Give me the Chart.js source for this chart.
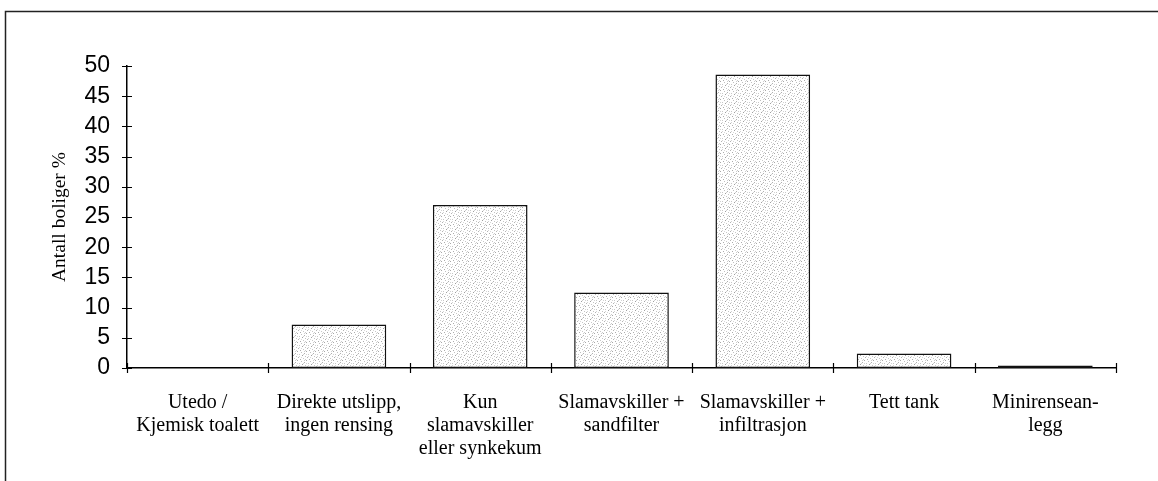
<!DOCTYPE html>
<html>
<head>
<meta charset="utf-8">
<script src="https://cdn.jsdelivr.net/npm/chart.js@4/dist/chart.umd.min.js"></script>
<style>
  html, body { margin: 0; padding: 0; background: #fff; }
  #wrap { width: 1158px; height: 481px; position: relative; }
</style>
</head>
<body>
<div id="wrap"><canvas id="c" width="1158" height="481"></canvas></div>
<script>
const categories = [
  ['Utedo /', 'Kjemisk toalett'],
  ['Direkte utslipp,', 'ingen rensing'],
  ['Kun', 'slamavskiller', 'eller synkekum'],
  ['Slamavskiller +', 'sandfilter'],
  ['Slamavskiller +', 'infiltrasjon'],
  ['Tett tank'],
  ['Minirensean-', 'legg']
];
const values = [0, 7.2, 27.0, 12.5, 48.6, 2.4, 0.4];
const yTicks = [0, 5, 10, 15, 20, 25, 30, 35, 40, 45, 50];
const yTitle = 'Antall boliger %';

// stippled light-grey fill texture (fixed dot layout)
function makePattern() {
  const n = 9;
  const t = document.createElement('canvas');
  t.width = n; t.height = n;
  const g = t.getContext('2d');
  g.fillStyle = '#ffffff'; g.fillRect(0, 0, n, n);
  const dots = [
    [0,0,'#a8a8a8'],[4,1,'#c0c0c0'],[7,2,'#b0b0b0'],[2,3,'#c8c8c8'],
    [5,4,'#a0a0a0'],[8,5,'#c4c4c4'],[1,6,'#b4b4b4'],[6,7,'#c8c8c8'],
    [3,8,'#acacac'],[7,0,'#d0d0d0'],[2,5,'#d4d4d4'],[6,3,'#d0d0d0'],
    [4,6,'#d8d8d8'],[0,3,'#d4d4d4'],[8,8,'#cccccc']
  ];
  dots.forEach(d => { g.fillStyle = d[2]; g.fillRect(d[0], d[1], 1, 1); });
  return g.createPattern(t, 'repeat');
}

const framePlugin = {
  id: 'frame',
  beforeDraw(chart) {
    const ctx = chart.ctx;
    ctx.save();
    ctx.fillStyle = '#fff';
    ctx.fillRect(0, 0, chart.width, chart.height);
    ctx.strokeStyle = '#222';
    ctx.lineWidth = 1.5;
    ctx.beginPath();
    ctx.moveTo(5.5, chart.height);
    ctx.lineTo(5.5, 11.5);
    ctx.lineTo(chart.width, 11.5);
    ctx.stroke();
    ctx.restore();
  },
  afterDraw(chart) {
    const ctx = chart.ctx;
    const x = chart.scales.x, y = chart.scales.y;
    const ca = chart.chartArea;
    ctx.save();
    ctx.strokeStyle = '#000';
    ctx.lineWidth = 1.2;
    ctx.beginPath();
    y.ticks.forEach((t, i) => {
      const py = Math.round(y.getPixelForTick(i)) + 0.5;
      ctx.moveTo(ca.left - 5, py);
      ctx.lineTo(ca.left + 5, py);
    });
    for (let i = 0; i <= categories.length; i++) {
      const px = Math.round(x.getPixelForValue(i - 0.5)) + 0.5;
      ctx.moveTo(px, ca.bottom - 5);
      ctx.lineTo(px, ca.bottom + 5);
    }
    ctx.stroke();
    ctx.restore();
  }
};

new Chart(document.getElementById('c'), {
  type: 'bar',
  data: {
    labels: categories,
    datasets: [{
      data: values,
      backgroundColor: makePattern(),
      borderColor: '#111',
      borderWidth: 1.5,
      borderSkipped: false,
      barPercentage: 0.67,
      categoryPercentage: 1.0
    }]
  },
  options: {
    responsive: false,
    animation: false,
    devicePixelRatio: 1,
    layout: { padding: { left: 0, top: 66, right: 42, bottom: 0 } },
    plugins: { legend: { display: false }, tooltip: { enabled: false } },
    scales: {
      x: {
        grid: { display: false },
        border: { display: true, color: '#000', width: 1.5 },
        ticks: {
          color: '#000',
          font: { family: '"Liberation Serif", "Times New Roman", serif', size: 20, lineHeight: 1.15 },
          padding: 15,
          maxRotation: 0,
          autoSkip: false
        },
        afterFit(scale) { scale.height = 113; }
      },
      y: {
        min: 0,
        max: 50,
        afterBuildTicks(scale) { scale.ticks = yTicks.map(v => ({ value: v })); },
        grid: { display: false },
        border: { display: true, color: '#000', width: 1.5 },
        ticks: {
          color: '#000',
          font: { family: '"Liberation Sans", Arial, sans-serif', size: 23, lineHeight: 1.0 },
          padding: 9,
          autoSkip: false
        },
        title: {
          display: true,
          text: yTitle,
          color: '#000',
          font: { family: '"Liberation Serif", "Times New Roman", serif', size: 19.5 },
          padding: { top: 48, bottom: 0 }
        },
        afterFit(scale) { scale.width = 127; }
      }
    }
  },
  plugins: [framePlugin]
});
</script>
</body>
</html>
